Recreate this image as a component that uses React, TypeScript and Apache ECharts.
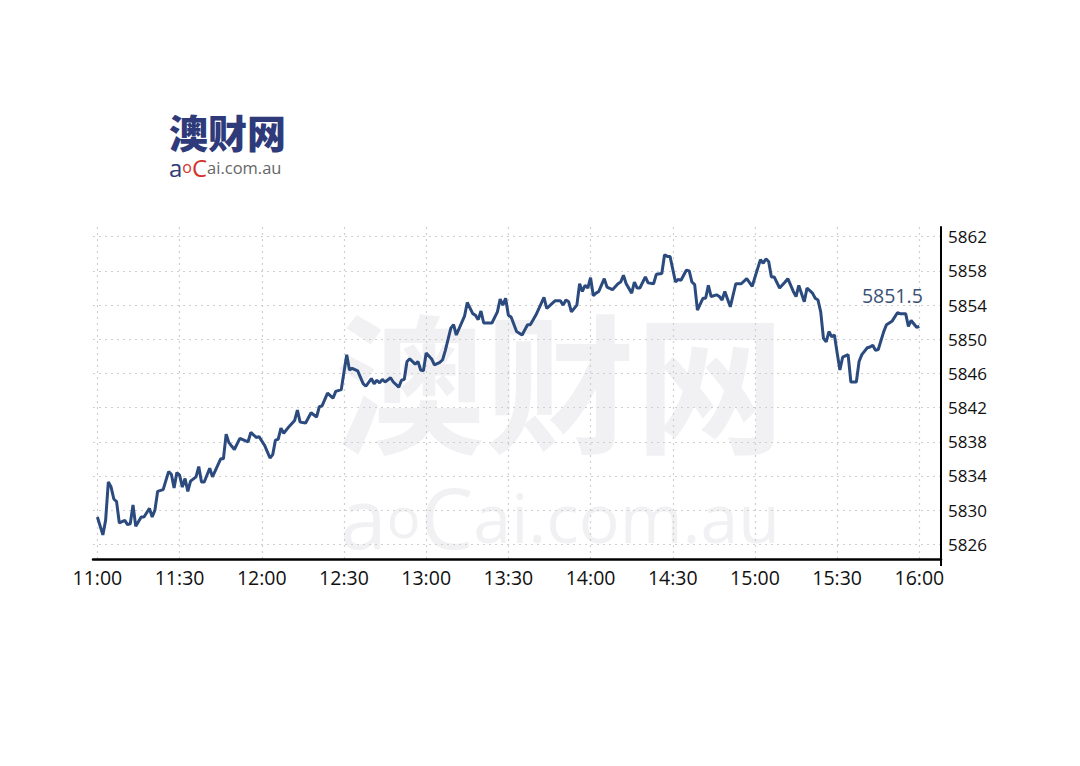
import React, { useEffect, useRef } from "react";
import * as echarts from "echarts";

const times = [
  "11:00","11:02","11:03","11:04","11:05","11:06","11:07","11:08","11:10","11:11",
  "11:12","11:13","11:14","11:16","11:17","11:19","11:20","11:21","11:22","11:24",
  "11:26","11:27","11:28","11:29","11:30","11:31","11:32","11:33","11:34","11:36",
  "11:37","11:38","11:39","11:41","11:42","11:45","11:46","11:47","11:48","11:50",
  "11:52","11:55","11:56","11:58","11:59","12:01","12:03","12:04","12:05","12:06",
  "12:07","12:08","12:10","12:12","12:13","12:14","12:16","12:18","12:20","12:21",
  "12:22","12:24","12:26","12:27","12:29","12:31","12:32","12:33","12:35","12:37",
  "12:38","12:40","12:41","12:42","12:43","12:44","12:45","12:47","12:48","12:50",
  "12:51","12:52","12:53","12:54","12:56","12:57","12:58","12:59","13:00","13:02",
  "13:03","13:05","13:06","13:07","13:09","13:10","13:11","13:14","13:15","13:17",
  "13:18","13:19","13:20","13:21","13:24","13:26","13:27","13:28","13:29","13:30",
  "13:31","13:33","13:35","13:37","13:38","13:40","13:43","13:44","13:46","13:47",
  "13:49","13:50","13:51","13:52","13:53","13:55","13:56","13:57","13:58","13:59",
  "14:00","14:01","14:02","14:03","14:05","14:06","14:08","14:10","14:11","14:12",
  "14:13","14:15","14:16","14:17","14:18","14:20","14:21","14:23","14:24","14:26",
  "14:27","14:28","14:29","14:31","14:32","14:33","14:35","14:36","14:37","14:38",
  "14:39","14:41","14:42","14:43","14:44","14:46","14:47","14:48","14:49","14:51",
  "14:53","14:55","14:57","14:59","15:01","15:02","15:03","15:04","15:05","15:06",
  "15:07","15:09","15:11","15:12","15:14","15:15","15:16","15:18","15:19","15:21",
  "15:22","15:23","15:24","15:25","15:26","15:27","15:28","15:29","15:30","15:31",
  "15:32","15:34","15:35","15:37","15:38","15:39","15:41","15:42","15:43","15:44",
  "15:45","15:47","15:48","15:50","15:52","15:53","15:55","15:56","15:57","15:59",
  "16:00",
];

const values = [
  5829.2, 5827.1, 5828.8, 5833.3, 5832.7, 5831.3, 5831.0, 5828.5, 5828.8, 5828.3,
  5828.4, 5830.6, 5828.1, 5829.2, 5829.2, 5830.2, 5829.2, 5830.0, 5832.2, 5832.4,
  5834.5, 5834.2, 5832.6, 5834.4, 5834.1, 5832.7, 5833.7, 5832.2, 5833.4, 5833.9,
  5835.1, 5833.3, 5833.3, 5834.9, 5833.9, 5836.0, 5836.0, 5838.9, 5837.9, 5837.1,
  5838.4, 5838.0, 5839.1, 5838.5, 5838.6, 5837.6, 5836.1, 5836.5, 5838.2, 5838.3,
  5839.6, 5839.0, 5839.8, 5840.5, 5841.7, 5840.3, 5840.2, 5841.4, 5840.9, 5842.1,
  5842.2, 5843.7, 5843.1, 5843.9, 5844.1, 5848.2, 5846.4, 5846.6, 5846.3, 5844.8,
  5844.5, 5845.4, 5844.8, 5845.2, 5844.9, 5845.3, 5845.0, 5845.5, 5845.0, 5844.4,
  5845.2, 5845.3, 5847.4, 5847.7, 5847.1, 5847.4, 5846.4, 5846.3, 5848.4, 5847.7,
  5847.0, 5847.3, 5847.6, 5848.7, 5851.3, 5851.7, 5850.5, 5852.7, 5854.3, 5853.0,
  5852.8, 5852.3, 5853.3, 5851.9, 5851.9, 5853.2, 5854.7, 5854.0, 5854.8, 5852.8,
  5852.6, 5850.9, 5850.5, 5851.7, 5851.7, 5852.8, 5854.9, 5853.6, 5854.2, 5854.5,
  5854.5, 5854.0, 5854.6, 5854.4, 5853.2, 5854.0, 5856.5, 5855.6, 5856.3, 5856.0,
  5857.2, 5855.1, 5855.4, 5855.6, 5857.1, 5856.1, 5855.8, 5856.5, 5856.7, 5857.5,
  5856.5, 5855.4, 5856.7, 5856.0, 5856.0, 5857.3, 5856.6, 5856.5, 5857.6, 5857.7,
  5859.9, 5859.7, 5859.7, 5856.7, 5857.0, 5856.9, 5858.1, 5858.0, 5856.7, 5856.4,
  5853.4, 5854.8, 5854.8, 5856.3, 5855.0, 5855.2, 5855.0, 5854.6, 5855.6, 5853.8,
  5856.5, 5856.5, 5857.1, 5856.2, 5858.3, 5859.3, 5858.9, 5859.4, 5859.1, 5857.3,
  5857.3, 5856.0, 5856.7, 5857.1, 5855.6, 5855.0, 5856.3, 5854.4, 5856.0, 5855.4,
  5854.8, 5854.6, 5853.2, 5850.1, 5849.7, 5850.9, 5850.3, 5850.5, 5848.4, 5846.4,
  5847.9, 5848.2, 5845.0, 5845.0, 5847.4, 5848.2, 5849.0, 5849.1, 5849.3, 5848.7,
  5848.8, 5850.9, 5851.7, 5852.1, 5853.1, 5853.0, 5853.0, 5851.5, 5852.2, 5851.4,
  5851.5,
];

const xTickLabels = ["11:00","11:30","12:00","12:30","13:00","13:30","14:00","14:30","15:00","15:30","16:00"];
const yTickValues = [5826, 5830, 5834, 5838, 5842, 5846, 5850, 5854, 5858, 5862];

const toMin = (t: string) => {
  const [h, m] = t.split(":").map(Number);
  return h * 60 + m;
};
const fmtMin = (v: number) => {
  const h = Math.floor(v / 60);
  const m = Math.round(v - h * 60);
  return `${h}:${m < 10 ? "0" + m : m}`;
};

export default function App() {
  const ref = useRef<HTMLDivElement>(null);
  useEffect(() => {
    if (!ref.current) return;
    const chart = echarts.init(ref.current, undefined, { renderer: "svg" });
    const n = Math.min(times.length, values.length);
    const data: number[][] = [];
    for (let i = 0; i < n; i++) data.push([toMin(times[i]), values[i]]);
    const last = data[n - 1];
    const font = "Open Sans";
    const wm = "#f1f1f4";
    chart.setOption({
      animation: false,
      backgroundColor: "#ffffff",
      grid: { left: 93, right: 139, top: 227, bottom: 207 },
      xAxis: {
        type: "value",
        min: 658.4,
        max: 967.9,
        axisLine: { show: true, lineStyle: { color: "#000", width: 2.5 } },
        axisTick: { show: false, customValues: xTickLabels.map(toMin) },
        axisLabel: {
          customValues: xTickLabels.map(toMin),
          formatter: (v: number) => fmtMin(v),
          color: "#111",
          fontSize: 19.5,
          fontFamily: font,
          margin: 8,
        },
        splitLine: { show: true, lineStyle: { color: "#cfcfcf", type: [2, 4], width: 1.2 } },
      },
      yAxis: {
        type: "value",
        position: "right",
        min: 5824.28,
        max: 5863.14,
        axisLine: { show: true, lineStyle: { color: "#000", width: 2 } },
        axisTick: { show: false, customValues: yTickValues },
        axisLabel: {
          customValues: yTickValues,
          formatter: (v: number) => String(v),
          color: "#111",
          fontSize: 17,
          fontFamily: font,
          margin: 7,
        },
        splitLine: { show: true, lineStyle: { color: "#cfcfcf", type: [2, 4], width: 1.2 } },
      },
      graphic: [
        {
          type: "text",
          z: -10,
          x: 560,
          y: 376,
          style: {
            text: "澳财网",
            fontSize: 150,
            lineHeight: 150,
            fontWeight: "bold",
            fontFamily: "Noto Sans CJK SC",
            fill: wm,
            textAlign: "center",
            textVerticalAlign: "middle",
          },
        },
        {
          type: "text",
          z: -10,
          x: 560,
          y: 516,
          style: {
            text: "{a|a}{o|o}{c|C}{r|ai.com.au}",
            fontFamily: font,
            fill: wm,
            textAlign: "center",
            textVerticalAlign: "middle",
            rich: {
              a: { fontSize: 84, lineHeight: 80, fill: wm, fontFamily: font },
              o: { fontSize: 56, lineHeight: 80, fill: wm, fontFamily: font },
              c: { fontSize: 84, lineHeight: 80, fill: wm, fontFamily: font },
              r: { fontSize: 68, lineHeight: 80, fill: wm, fontFamily: font },
            },
          },
        },
        {
          type: "text",
          x: 169,
          y: 131,
          style: {
            text: "澳财网",
            fontSize: 39,
            lineHeight: 40,
            fontWeight: 900,
            fontFamily: "Noto Sans CJK SC",
            fill: "#2e3a7a",
            textAlign: "left",
            textVerticalAlign: "middle",
          },
        },
        {
          type: "text",
          x: 169,
          y: 167,
          style: {
            text: "{a|a}{o|o}{c|C}{r|ai.com.au}",
            fontFamily: font,
            textAlign: "left",
            textVerticalAlign: "middle",
            rich: {
              a: { fontSize: 24, lineHeight: 22, fill: "#2e3a7a", fontFamily: font },
              o: { fontSize: 16, lineHeight: 22, fill: "#d2332b", fontFamily: font },
              c: { fontSize: 24, lineHeight: 22, fill: "#d2332b", fontFamily: font },
              r: { fontSize: 16.5, lineHeight: 22, fill: "#666666", fontFamily: font },
            },
          },
        },
        {
          type: "line",
          shape: { x1: 941, y1: 558, x2: 941, y2: 566 },
          style: { stroke: "#000", lineWidth: 2 },
        },
      ],
      series: [
        {
          type: "line",
          data,
          showSymbol: false,
          symbol: "none",
          lineStyle: { color: "#2b4a7e", width: 3 },
          itemStyle: { color: "#2b4a7e" },
          z: 5,
          markPoint: {
            symbol: "circle",
            symbolSize: 1,
            itemStyle: { color: "rgba(0,0,0,0)" },
            data: [
              {
                coord: last,
                value: last[1],
                label: {
                  show: true,
                  position: "inside",
                  offset: [-27, -31],
                  formatter: (p: any) => Number(p.value).toFixed(1),
                  color: "#3a5075",
                  fontSize: 19.5,
                  fontFamily: font,
                },
              },
            ],
          },
        },
      ],
    });
    return () => chart.dispose();
  }, []);
  return (
    <div
      ref={ref}
      style={{ position: "fixed", left: 0, top: 0, width: 1080, height: 766 }}
    />
  );
}
